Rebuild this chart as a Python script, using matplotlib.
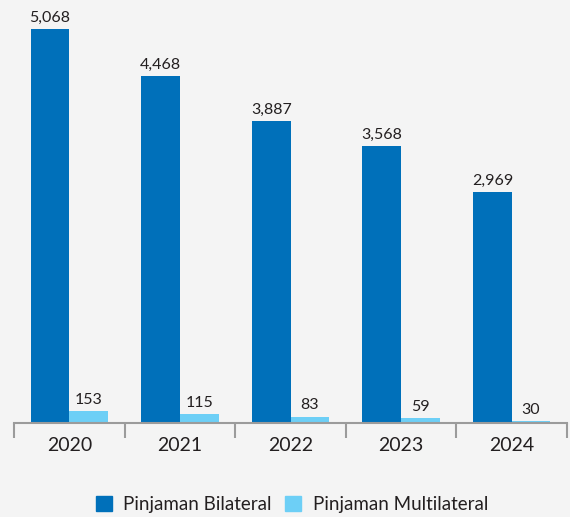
import numpy as np
import matplotlib.pyplot as plt
from matplotlib.patches import Patch

# Data
tahun = ['2020', '2021', '2022', '2023', '2024']
bilateral = [5068, 4468, 3887, 3568, 2969]
multilateral = [153, 115, 83, 59, 30]

warna_bi = '#0070BA'
warna_multi = '#6DCFF6'
warna_teks = '#231F20'
bg = '#F4F4F4'

plt.rcParams['font.family'] = ['Lato', 'DejaVu Sans']

fig = plt.figure(figsize=(5.7, 5.17), dpi=100, facecolor=bg)
ax = fig.add_axes([14 / 570, 94 / 517, 553 / 570, 423 / 517], facecolor=bg)

x = np.arange(len(tahun))
lebar = 0.35
b1 = ax.bar(x - lebar / 2, bilateral, lebar, color=warna_bi)
b2 = ax.bar(x + lebar / 2, multilateral, lebar, color=warna_multi)

for rects, vals in [(b1, bilateral), (b2, multilateral)]:
    for r, v in zip(rects, vals):
        ax.annotate(f'{v:,}', (r.get_x() + r.get_width() / 2, r.get_height()),
                    xytext=(0, 3), textcoords='offset points',
                    ha='center', va='bottom', fontsize=11.5, color=warna_teks)

ax.set_xlim(-0.5, len(tahun) - 0.5)
ax.set_ylim(0, 5068 * 423 / 394)

# ticks at category boundaries, labels at centers
ax.set_xticks(np.arange(-0.5, len(tahun)), minor=False)
ax.set_xticklabels([])
ax.set_xticks(x, minor=True)
ax.set_xticklabels(tahun, minor=True, fontsize=14, color=warna_teks)
ax.tick_params(axis='x', which='major', length=11, width=1.5, color='#9B9B9B', direction='out')
ax.tick_params(axis='x', which='minor', length=0, pad=10)
ax.set_yticks([])

for s in ['top', 'right', 'left']:
    ax.spines[s].set_visible(False)
ax.spines['bottom'].set_color('#9B9B9B')
ax.spines['bottom'].set_linewidth(1.5)

handles = [Patch(color=warna_bi, label='Pinjaman Bilateral'),
           Patch(color=warna_multi, label='Pinjaman Multilateral')]
fig.legend(handles=handles, loc='center', bbox_to_anchor=(0.512, 0.025), ncol=2,
           frameon=False, fontsize=13.5, handlelength=0.85, handleheight=0.85,
           handletextpad=0.6, columnspacing=0.75, labelcolor=warna_teks)

fig.savefig('out.png', dpi=100, facecolor=bg)
